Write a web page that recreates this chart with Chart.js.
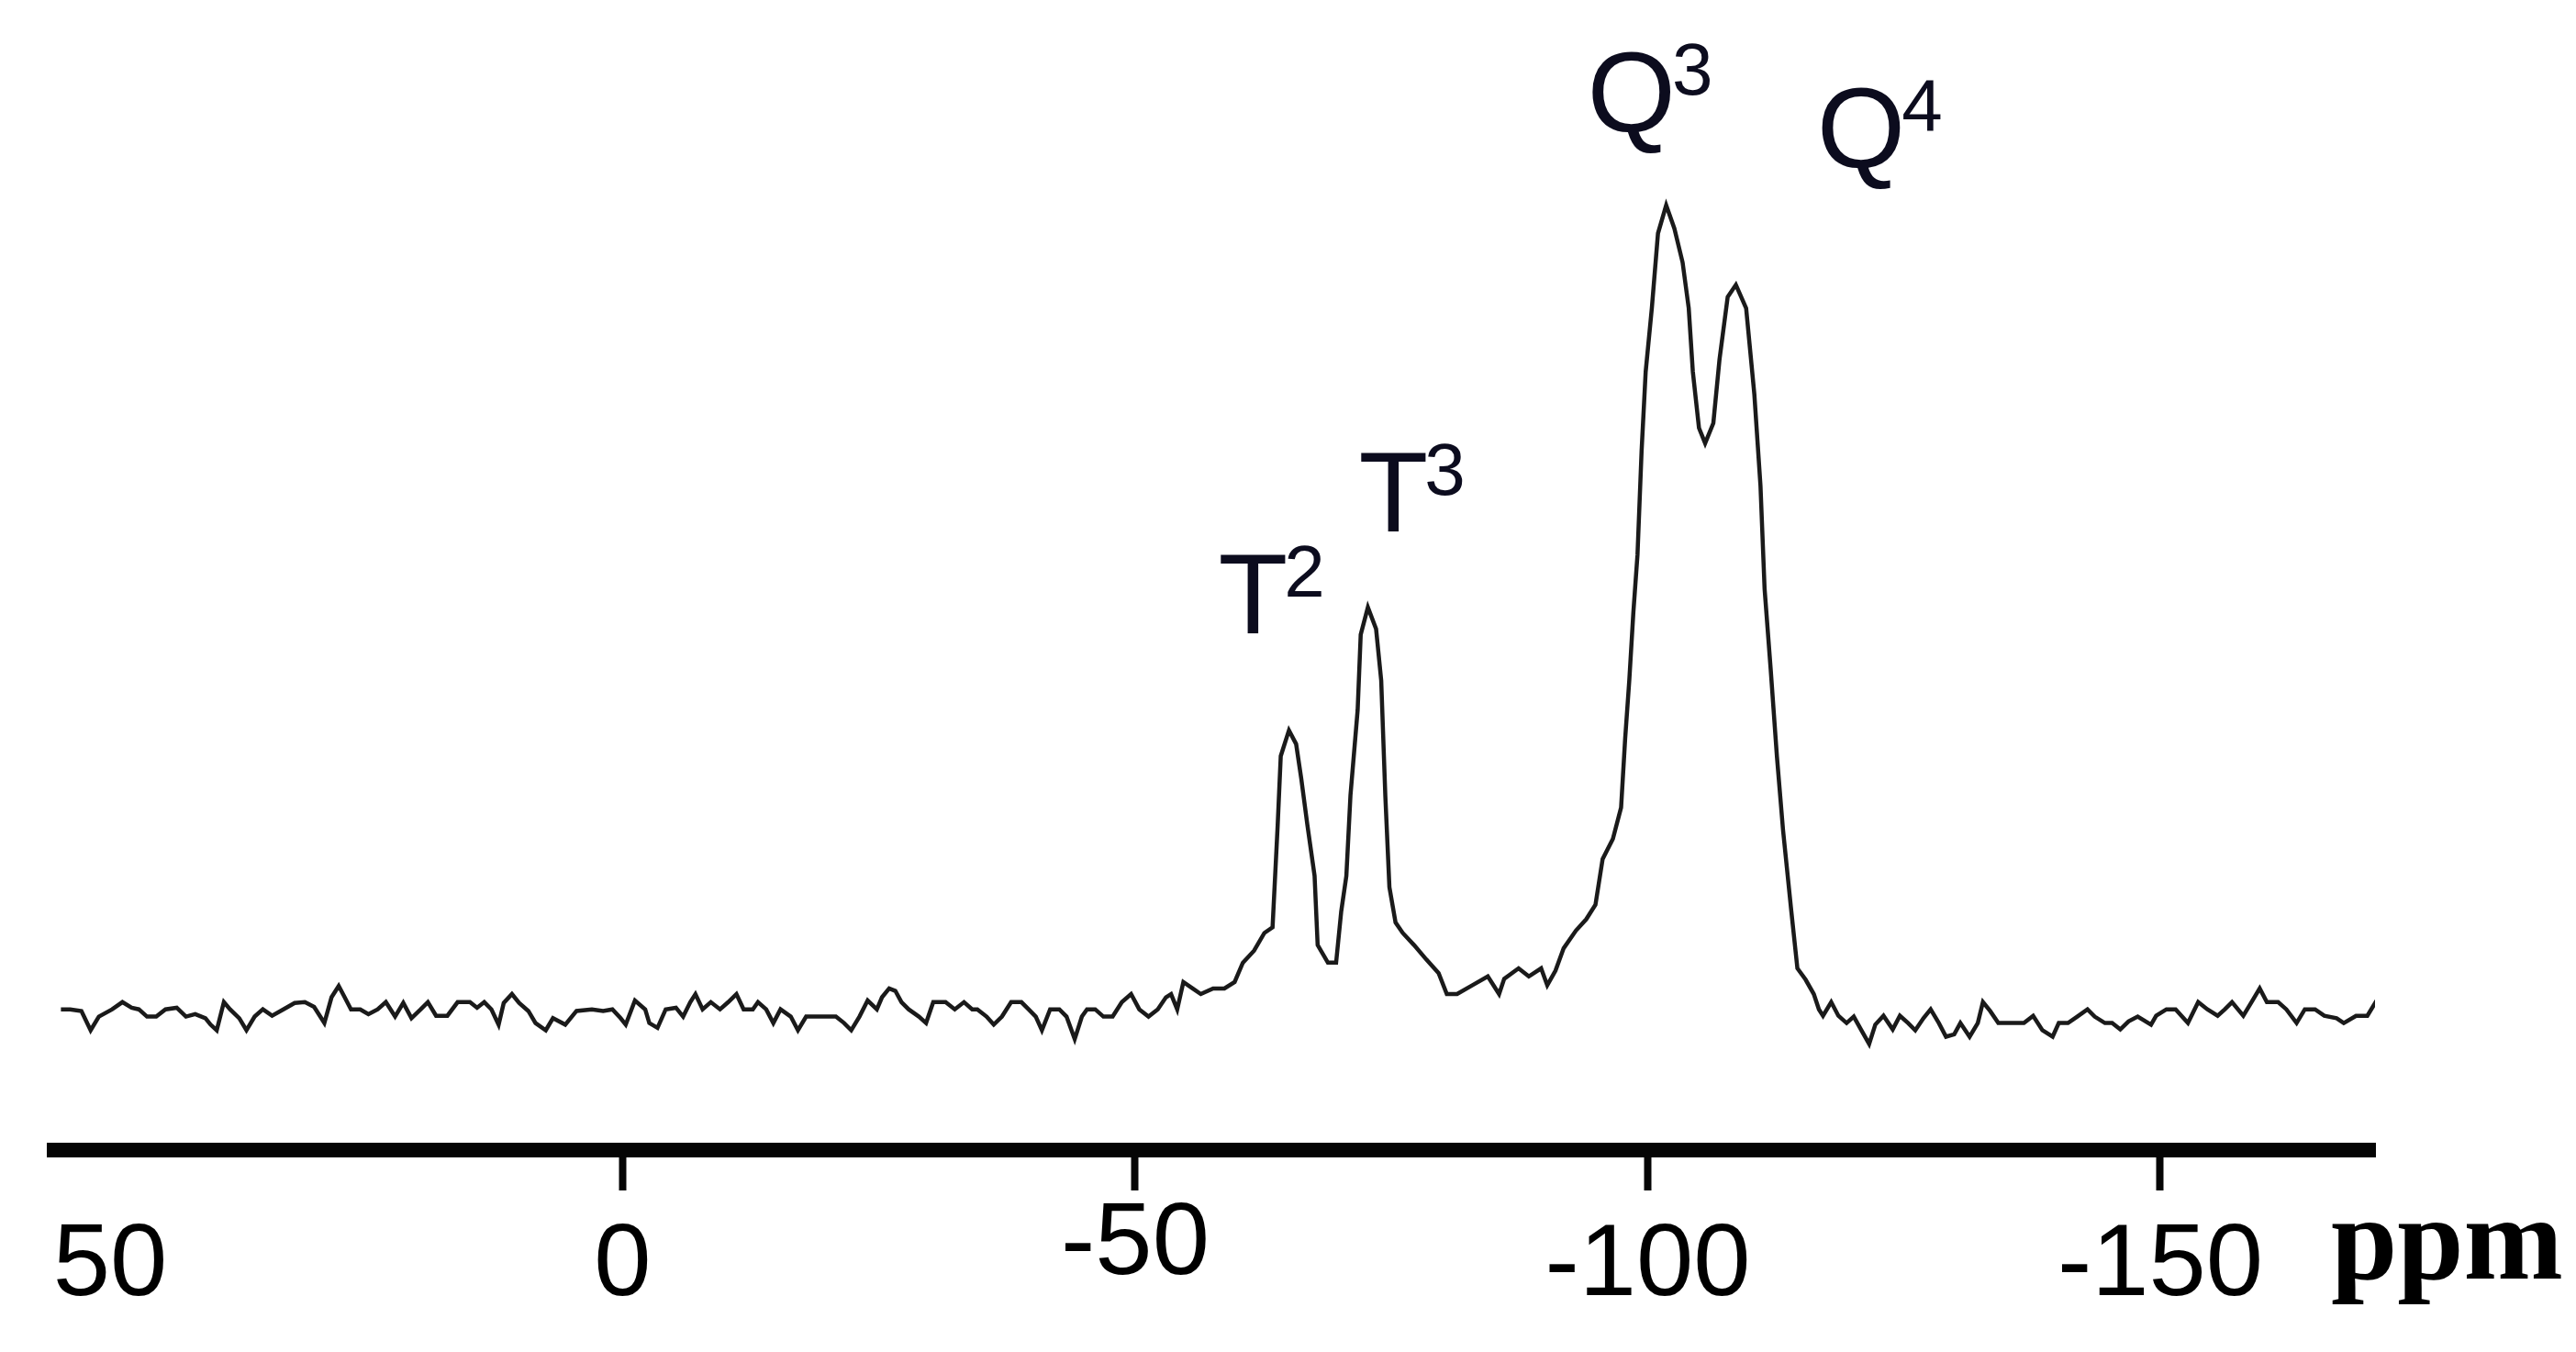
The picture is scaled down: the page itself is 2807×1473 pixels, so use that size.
<!DOCTYPE html>
<html>
<head>
<meta charset="utf-8">
<title>29Si NMR spectrum</title>
<script src="https://cdn.jsdelivr.net/npm/chart.js@4.4.1/dist/chart.umd.min.js"></script>
<style>
  html, body { margin: 0; padding: 0; background: #fff; }
  canvas { display: block; }
</style>
</head>
<body>
<canvas id="nmrChart" width="2807" height="1473"></canvas>
<script>
// chemical shift (ppm) and intensity
const ppm = [
  54.8, 53.9, 52.8, 51.9, 51.1, 49.8, 48.8, 47.9, 47.2, 46.4, 45.5, 44.6, 43.5, 42.6, 41.7, 40.7, 40.2, 39.6,
  38.9, 38.3, 37.4, 36.7, 35.9, 35.1, 34.2, 33.1, 32.0, 31.0, 30.1, 29.1, 28.4, 27.7, 27.2, 26.5, 25.6, 24.8,
  23.9, 23.1, 22.2, 21.4, 20.6, 19.7, 19.0, 18.2, 17.1, 16.1, 14.9, 14.2, 13.5, 12.8, 12.1, 11.6, 10.8, 10.1,
  9.2, 8.5, 7.5, 6.8, 5.6, 4.5, 3.0, 1.9, 1.0, 0.2, -0.3, -1.2, -2.2, -2.6, -3.4, -4.2, -5.2, -5.9,
  -6.6, -7.1, -7.8, -8.6, -9.5, -10.3, -11.1, -11.8, -12.7, -13.2, -14.0, -14.7, -15.4, -16.4, -17.1, -17.9,
  -19.0, -20.1, -20.8, -21.6, -22.3, -23.1, -23.9, -24.8, -25.3, -26.0, -26.6, -27.2, -27.9, -28.9, -29.6,
  -30.3, -31.5, -32.4, -33.3, -34.1, -34.6, -35.5, -36.2, -37.0, -37.9, -38.9, -39.6, -40.3, -40.9, -41.7,
  -42.6, -43.3, -44.1, -44.8, -45.3, -46.1, -46.9, -47.8, -48.7, -49.6, -50.4, -51.3, -52.2, -53.0, -53.5,
  -54.1, -54.7, -55.6, -56.4, -57.6, -58.7, -59.7, -60.5, -61.6, -62.6, -63.4, -63.9, -64.2, -65.0, -65.7,
  -66.2, -66.8, -67.5, -67.8, -68.8, -69.6, -70.1, -70.6, -71.0, -71.7, -72.0, -72.7, -73.5, -74.0, -74.4,
  -74.8, -75.4, -76.1, -77.2, -78.4, -79.6, -80.4, -81.4, -82.9, -84.4, -85.5, -86.0, -87.4, -88.4, -89.6,
  -90.2, -91.0, -91.8, -93.0, -94.0, -94.9, -95.6, -96.6, -97.4, -97.8, -98.2, -98.6, -99.0, -99.4, -99.8,
  -100.4, -101.0, -101.8, -102.6, -103.4, -104.0, -104.4, -105.0, -105.6, -106.4, -107.0, -107.8, -108.6,
  -109.6, -110.4, -111.0, -111.4, -112.0, -112.6, -113.2, -114.0, -114.6, -115.4, -116.2, -116.7, -117.1,
  -117.9, -118.6, -119.4, -120.1, -120.8, -121.6, -122.2, -123.0, -123.9, -124.6, -125.4, -126.1, -126.9,
  -127.6, -128.4, -129.1, -129.9, -130.5, -131.4, -132.2, -132.7, -133.4, -134.2, -135.1, -135.9, -136.7,
  -137.6, -138.5, -139.5, -140.1, -141.0, -141.9, -142.9, -143.6, -144.6, -145.3, -146.1, -146.9, -147.8,
  -149.1, -149.6, -150.6, -151.5, -152.7, -153.7, -154.6, -155.6, -156.3, -157.0, -158.1, -158.9, -159.7,
  -160.4, -161.5, -162.3, -163.3, -164.1, -165.1, -166.0, -167.2, -167.9, -169.1, -170.2, -171.1
];
const intensity = [
  0, 0, -0.2, -2.6, -0.9, 0, 0.9, 0.2, 0, -0.9, -0.9, 0, 0.2, -0.9, -0.6, -1.1, -1.9, -2.6,
  0.9, 0, -1.1, -2.6, -0.9, 0, -0.8, 0, 0.8, 0.9, 0.3, -1.7, 1.5, 2.9, 1.7, 0, 0, -0.6,
  0, 0.9, -0.9, 0.8, -1.1, 0, 0.9, -0.8, -0.8, 0.9, 0.9, 0.2, 0.9, 0, -1.9, 0.8, 1.9, 0.8,
  -0.2, -1.7, -2.6, -1.1, -1.9, -0.2, 0, -0.2, 0, -1.1, -1.9, 1.1, 0, -1.7, -2.3, 0, 0.2, -0.9,
  0.9, 1.9, 0, 0.9, 0, 0.9, 1.9, 0, 0, 0.9, 0, -1.7, 0, -0.9, -2.6, -0.9,
  -0.9, -0.9, -0.9, -1.7, -2.6, -0.9, 1.1, 0, 1.5, 2.6, 2.3, 0.9, 0, -0.9, -1.7,
  0.9, 0.9, 0, 0.9, 0, 0, -0.9, -1.9, -0.9, 0.9, 0.9, 0, -0.9, -2.6, 0,
  0, -0.9, -3.7, -0.9, 0, 0, -0.9, -0.9, 0.9, 1.9, 0, -0.9, 0, 1.5, 1.9,
  0, 3.4, 2.6, 1.9, 2.6, 2.6, 3.4, 5.8, 7.3, 9.5, 10.2, 22.9, 31.5, 34.7, 33.0,
  28.7, 22.9, 16.6, 8.0, 5.8, 5.8, 12.2, 16.6, 26.6, 37.2, 46.6, 50.0, 47.3, 40.9, 26.6,
  15.2, 10.8, 9.5, 8.0, 6.2, 4.5, 1.9, 1.9, 3.0, 4.1, 1.9, 3.8, 5.1, 4.1, 5.1,
  3.0, 4.8, 7.6, 9.8, 11.2, 13.0, 18.7, 21.2, 25.1, 33.7, 40.9, 49.4, 56.5, 69.4, 79.3,
  87.2, 96.5, 100, 97.1, 92.9, 87.2, 79.3, 72.3, 70.4, 72.9, 80.8, 88.6, 90.1,
  87.2, 76.5, 65.1, 52.3, 42.2, 31.5, 22.3, 12.3, 5.1, 3.7, 1.9, 0, -0.8,
  0.9, -0.8, -1.7, -0.9, -2.5, -4.3, -1.9, -0.8, -2.5, -0.8, -1.7, -2.6, -1.1,
  0, -1.7, -3.4, -3.1, -1.7, -3.4, -1.7, 0.9, -0.2, -1.7, -1.7, -1.7, -1.7,
  -0.8, -2.6, -3.4, -1.7, -1.7, -0.9, 0, -0.9, -1.7, -1.7, -2.5, -1.5, -0.9,
  -1.9, -0.8, 0, 0, -1.7, 0.9, 0, -0.8, 0, 0.9, -0.8, 0.9, 2.6,
  0.9, 0.9, 0, -1.7, 0, 0, -0.8, -1.1, -1.7, -0.8, -0.8, 1.1
];
const tickValues = [50, 0, -50, -100, -150];

// peak assignments (letter, superscript, where the label sits)
const peakNames = ['T', 'T', 'Q', 'Q'];
const peakSup = ['2', '3', '3', '4'];
const peakLabelPpm = [-58.1, -71.8, -94.1, -116.5];
const peakLabelHeight = [46.8, 59.4, 109.2, 104.7];

const sansFamily = "'Liberation Sans', Arial, sans-serif";

const peakLabels = {
  id: 'peakLabels',
  afterDraw(chart) {
    const { ctx, scales: { x, y } } = chart;
    ctx.save();
    ctx.textAlign = 'left';
    ctx.textBaseline = 'alphabetic';
    ctx.fillStyle = '#0c0c1e';
    peakNames.forEach((name, i) => {
      const px = x.getPixelForValue(peakLabelPpm[i]);
      const py = y.getPixelForValue(peakLabelHeight[i]);
      ctx.font = '124px ' + sansFamily;
      ctx.fillText(name, px, py);
      const w = ctx.measureText(name).width;
      ctx.font = '80px ' + sansFamily;
      ctx.fillText(peakSup[i], px + w - 4, py - 40);
    });
    // axis unit, sits on the tick label row past the last tick
    ctx.fillStyle = '#000';
    ctx.font = "bold 130px 'Liberation Serif', 'Times New Roman', serif";
    ctx.fillText('ppm', x.right - 48, x.top + 140);
    ctx.restore();
  }
};

const ctx = document.getElementById('nmrChart').getContext('2d');

new Chart(ctx, {
  type: 'line',
  data: {
    datasets: [{
      data: ppm.map((v, i) => ({ x: v, y: intensity[i] })),
      borderColor: '#1a1a1a',
      borderWidth: 4.5,
      pointRadius: 0,
      tension: 0,
      fill: false
    }]
  },
  options: {
    responsive: false,
    animation: false,
    devicePixelRatio: 1,
    layout: {
      padding: { left: 59, right: 219, top: 136, bottom: 10 }
    },
    scales: {
      x: {
        type: 'linear',
        reverse: true,
        min: -170.95,
        max: 55.46,
        afterBuildTicks: scale => {
          scale.ticks = tickValues.map(v => ({ value: v }));
        },
        border: { display: true, color: '#050505', width: 16 },
        grid: {
          display: true,
          drawOnChartArea: false,
          drawTicks: true,
          tickLength: 44,
          tickWidth: 8,
          tickColor: c => (c.tick && c.tick.value === 50) ? 'rgba(0,0,0,0)' : '#050505'
        },
        ticks: {
          color: '#000',
          padding: 27,
          maxRotation: 0,
          autoSkip: false,
          font: c => ({
            family: sansFamily,
            size: 112,
            lineHeight: (c.tick && c.tick.value === -50) ? '66px' : '112px'
          })
        }
      },
      y: {
        display: false,
        min: -17.5,
        max: 110
      }
    },
    plugins: {
      legend: { display: false },
      tooltip: { enabled: false }
    }
  },
  plugins: [peakLabels]
});
</script>
</body>
</html>
